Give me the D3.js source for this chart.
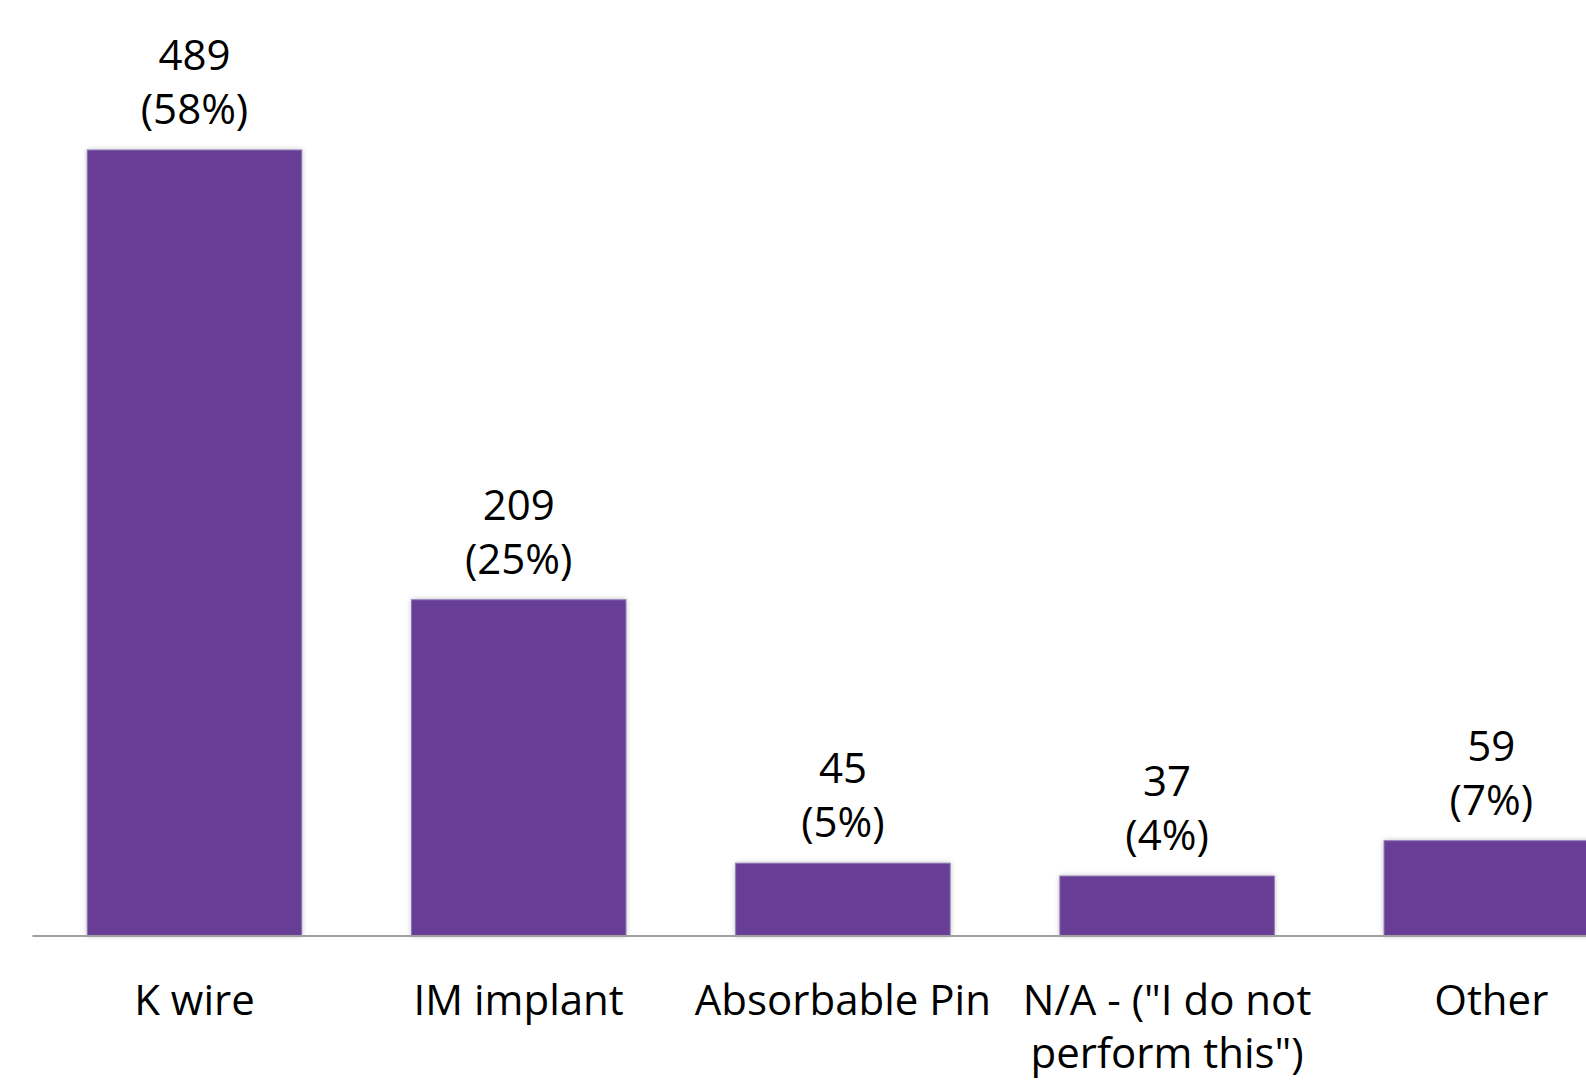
<!DOCTYPE html>
<html>
<head>
<meta charset="utf-8">
<script src="https://cdn.jsdelivr.net/npm/d3@7"></script>
<style>
html, body { margin: 0; padding: 0; background: #ffffff; overflow: hidden; }
svg { display: block; }
text { font-family: "Open Sans", "Noto Sans", sans-serif; fill: #000; }
</style>
</head>
<body>
<svg id="chart" width="1586" height="1085"></svg>
<script>
const categories = ["K wire", "IM implant", "Absorbable Pin", "N/A - (\"I do not perform this\")", "Other"];
const tickLabels = [["K wire"], ["IM implant"], ["Absorbable Pin"], ["N/A - (\"I do not", "perform this\")"], ["Other"]];
const counts = [489, 209, 45, 37, 59];
const percents = ["58%", "25%", "5%", "4%", "7%"];

const W = 1586, H = 1085;
const baseline = 935.5, topY = 150;
const step = 324.2, x0 = 32.4;
const pad = 0.3384;
const fontSize = 42;

const svg = d3.select("#chart");

const x = d3.scaleBand()
  .domain(categories)
  .range([x0, x0 + step * categories.length])
  .paddingInner(pad)
  .paddingOuter(pad / 2);

const y = d3.scaleLinear().domain([0, 489]).range([baseline, topY]);

// shadow filter
const defs = svg.append("defs");
const f = defs.append("filter").attr("id", "sh").attr("x", "-10%").attr("y", "-10%").attr("width", "120%").attr("height", "120%");
f.append("feGaussianBlur").attr("in", "SourceAlpha").attr("stdDeviation", 2.5).attr("result", "b");
f.append("feOffset").attr("in", "b").attr("dx", 0).attr("dy", 0).attr("result", "o");
f.append("feComponentTransfer").attr("in", "o").attr("result", "o2")
  .append("feFuncA").attr("type", "linear").attr("slope", 0.25);
const m = f.append("feMerge");
m.append("feMergeNode").attr("in", "o2");
m.append("feMergeNode").attr("in", "SourceGraphic");

// bars
svg.append("g").selectAll("rect")
  .data(categories)
  .join("rect")
  .attr("x", d => x(d))
  .attr("y", (d, i) => y(counts[i]))
  .attr("width", x.bandwidth())
  .attr("height", (d, i) => baseline - y(counts[i]))
  .attr("fill", "#673d96")
  .attr("stroke", "#8f78b5")
  .attr("stroke-width", 1)
  .attr("filter", "url(#sh)");

// axis line
svg.append("line")
  .attr("x1", x0).attr("x2", W)
  .attr("y1", baseline + 0.5).attr("y2", baseline + 0.5)
  .attr("stroke", "#a0a0a0")
  .attr("stroke-width", 1.8);

// value labels
const vl = svg.append("g").selectAll("text")
  .data(categories)
  .join("text")
  .attr("text-anchor", "middle")
  .attr("font-size", fontSize);
vl.append("tspan")
  .attr("x", d => x(d) + x.bandwidth() / 2)
  .attr("y", (d, i) => y(counts[i]) - 80)
  .text((d, i) => counts[i]);
vl.append("tspan")
  .attr("x", d => x(d) + x.bandwidth() / 2)
  .attr("y", (d, i) => y(counts[i]) - 26)
  .text((d, i) => "(" + percents[i] + ")");

// category labels
const cl = svg.append("g").selectAll("text")
  .data(categories)
  .join("text")
  .attr("text-anchor", "middle")
  .attr("font-size", fontSize);
cl.each(function(d, i) {
  const t = d3.select(this);
  tickLabels[i].forEach((line, j) => {
    t.append("tspan")
      .attr("x", x(d) + x.bandwidth() / 2)
      .attr("y", 1015 + j * 53)
      .text(line);
  });
});
</script>
</body>
</html>
